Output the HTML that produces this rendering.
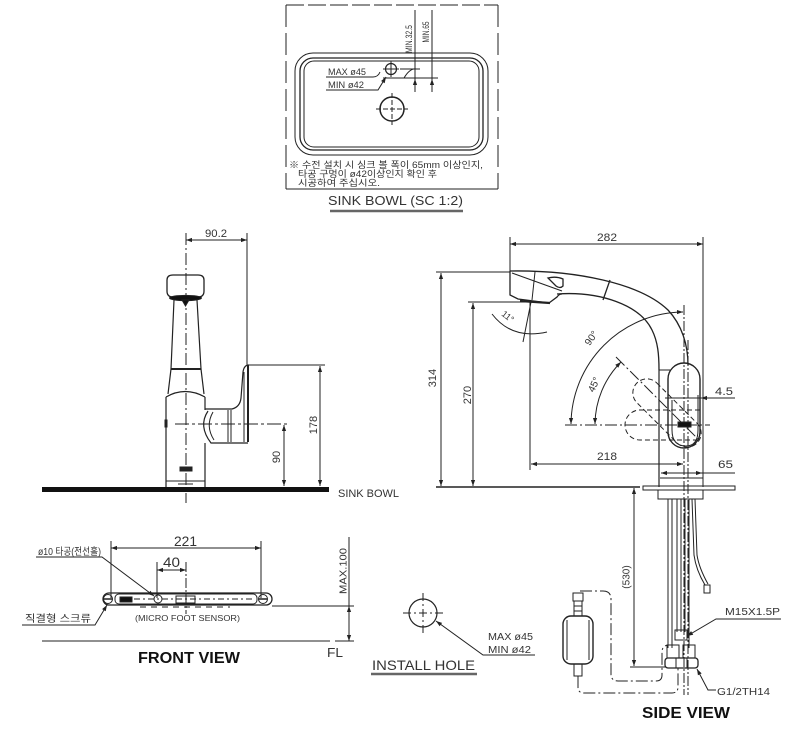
<!DOCTYPE html>
<html><head><meta charset="utf-8"><style>
html,body{margin:0;padding:0;background:#fff;}
svg{display:block;}
text{font-family:"Liberation Sans","Noto Sans CJK KR",sans-serif;fill:#333;}
</style></head><body>
<svg width="789" height="729" viewBox="0 0 789 729" xmlns="http://www.w3.org/2000/svg">
<defs>
<marker id="a" viewBox="0 0 10 10" refX="10" refY="5" markerWidth="7" markerHeight="6" orient="auto-start-reverse" markerUnits="userSpaceOnUse"><path d="M0,1.5 L10,5 L0,8.5z" fill="#222"/></marker>
</defs>
<g fill="none" stroke="#222" stroke-width="1">
<!-- ===== SINK BOWL ===== -->
<line x1="286" y1="5" x2="498" y2="5" stroke-dasharray="18 4"/>
<line x1="286" y1="5" x2="286" y2="189" stroke-dasharray="22 6"/>
<line x1="498" y1="5" x2="498" y2="189" stroke-dasharray="22 6"/>
<line x1="286" y1="189" x2="498" y2="189"/>
<rect x="295" y="53" width="193" height="102" rx="18"/>
<rect x="300" y="58" width="183" height="92" rx="13" stroke-width="1.3"/>
<rect x="304" y="61" width="175" height="86" rx="10"/>
<circle cx="391" cy="69" r="5.5" stroke-width="1.2"/>
<line x1="383" y1="69" x2="399" y2="69"/><line x1="391" y1="61" x2="391" y2="77"/>
<circle cx="392" cy="109" r="12" stroke-width="1.5"/>
<line x1="376" y1="109" x2="408" y2="109" stroke-dasharray="5 2"/><line x1="392" y1="93" x2="392" y2="125" stroke-dasharray="5 2"/>
<line x1="400" y1="69" x2="420" y2="69"/>
<path d="M404,78 Q410,68 416,69"/>
<line x1="383" y1="78" x2="438" y2="78"/>
<line x1="415" y1="10" x2="415" y2="92"/>
<line x1="432" y1="10" x2="432" y2="92"/>
<line x1="415" y1="92" x2="415" y2="79" marker-end="url(#a)"/>
<line x1="432" y1="92" x2="432" y2="79" marker-end="url(#a)"/>
<path d="M326,77 L373,77 Q378,77 380,72"/>
<path d="M326,90 L378,90 L386,77" marker-end="url(#a)"/>
<line x1="330" y1="211" x2="463" y2="211" stroke="#666" stroke-width="2.5"/>

<!-- ===== FRONT VIEW ===== -->
<line x1="186" y1="233" x2="186" y2="503" stroke-dasharray="12 3 2 3"/>
<line x1="247" y1="233" x2="247" y2="365"/>
<line x1="186" y1="240" x2="247" y2="240" marker-start="url(#a)" marker-end="url(#a)"/>
<path d="M167,291 L167,280 Q167,275 173,275 L198,275 Q204,275 204,280 L204,291 Q204,297 198,297 L173,297 Q167,297 167,291 Z" stroke-width="1.3"/>
<ellipse cx="185.5" cy="298" rx="16" ry="2.6" fill="#111"/>
<path d="M182,300 L189,300 L185.5,306 Z" fill="#111"/>
<path d="M174,300 L171,369 M197,300 L201,369" stroke-width="1.2"/>
<line x1="171" y1="369" x2="201" y2="369" stroke-width="2"/>
<path d="M171,369 L168,394 M201,369 L204,394" stroke-width="1.2"/>
<path d="M166,397 Q185,386 205,397" stroke-width="1.2"/>
<path d="M166,397 L166,487 M205,397 L205,410 M205,443 L205,487" stroke-width="1.2"/>
<rect x="165" y="420" width="2" height="7" fill="#222"/>
<rect x="180" y="467" width="12" height="4" fill="#222"/>
<line x1="166" y1="481" x2="205" y2="481"/>
<line x1="178" y1="484" x2="193" y2="484"/>
<path d="M205,409 L232,409 Q240,407 241,398 L243,372 Q244,365 249,365" stroke-width="1.2"/>
<line x1="248" y1="365" x2="248" y2="442" stroke-width="2"/>
<line x1="244" y1="372" x2="244" y2="442"/>
<path d="M208,411 Q198,426 211,443 L248,443" stroke-width="1.2"/>
<path d="M213,412 Q205,426 214,440"/>
<line x1="228" y1="410" x2="228" y2="442"/>
<line x1="231" y1="410" x2="231" y2="442"/>
<line x1="175" y1="424" x2="290" y2="424" stroke-dasharray="14 3 3 3"/>
<line x1="248" y1="365" x2="325" y2="365"/>
<line x1="284" y1="425" x2="284" y2="486" marker-start="url(#a)" marker-end="url(#a)"/>
<line x1="320" y1="366" x2="320" y2="486" marker-start="url(#a)" marker-end="url(#a)"/>
<rect x="42" y="487" width="287" height="5" fill="#111" stroke="none"/>

<!-- foot sensor -->
<line x1="111" y1="541" x2="111" y2="598"/>
<line x1="261" y1="541" x2="261" y2="598"/>
<line x1="111" y1="548" x2="261" y2="548" marker-start="url(#a)" marker-end="url(#a)"/>
<line x1="157" y1="562" x2="157" y2="598"/>
<line x1="186" y1="562" x2="186" y2="614" stroke-dasharray="10 2 2 2"/>
<line x1="157" y1="570" x2="186" y2="570" marker-start="url(#a)" marker-end="url(#a)"/>
<rect x="103" y="593" width="169" height="12" rx="6" stroke-width="1.3"/>
<rect x="115" y="594" width="142" height="10" rx="4"/>
<circle cx="108" cy="599" r="4.5"/>
<circle cx="263" cy="599" r="4.5"/>
<line x1="104" y1="599" x2="112" y2="599" stroke-width="1.5"/>
<line x1="259" y1="599" x2="267" y2="599" stroke-width="1.5"/>
<rect x="120" y="597" width="12" height="5" fill="#111"/>
<circle cx="158" cy="599" r="4"/>
<rect x="176" y="596" width="19" height="7"/>
<line x1="134" y1="599" x2="255" y2="599" stroke-dasharray="6 3 2 3"/>
<line x1="140" y1="607" x2="230" y2="607" stroke-dasharray="6 5"/>
<line x1="272" y1="606" x2="354" y2="606"/>
<path d="M36,557 L102,557 L154,596" marker-end="url(#a)"/>
<path d="M22,625 L95,625 L107,605" marker-end="url(#a)"/>
<line x1="42" y1="641" x2="330" y2="641"/>
<line x1="335" y1="641" x2="354" y2="641"/>
<line x1="349" y1="537" x2="349" y2="606"/>
<line x1="349" y1="606" x2="349" y2="641" marker-start="url(#a)" marker-end="url(#a)"/>

<!-- ===== INSTALL HOLE ===== -->
<circle cx="423" cy="613" r="14" stroke-width="1.2"/>
<line x1="403" y1="613" x2="443" y2="613" stroke-dasharray="8 3 2 3"/>
<line x1="423" y1="593" x2="423" y2="633" stroke-dasharray="8 3 2 3"/>
<path d="M535,655 L483,655 L436,621" marker-end="url(#a)"/>
<line x1="371" y1="674" x2="477" y2="674" stroke="#666" stroke-width="2.5"/>

<!-- ===== SIDE VIEW ===== -->
<line x1="510" y1="237" x2="510" y2="272"/>
<line x1="703" y1="237" x2="703" y2="487"/>
<line x1="510" y1="244" x2="703" y2="244" marker-start="url(#a)" marker-end="url(#a)"/>
<line x1="436" y1="272" x2="510" y2="272"/>
<line x1="441" y1="273" x2="441" y2="486" marker-start="url(#a)" marker-end="url(#a)"/>
<line x1="468" y1="302" x2="530" y2="302"/>
<line x1="473" y1="303" x2="473" y2="486" marker-start="url(#a)" marker-end="url(#a)"/>
<line x1="436" y1="487" x2="640" y2="487" stroke-width="1.4"/>
<!-- spout -->
<path d="M510,271 C575,270 640,283 668,310 C682,325 688,345 688,365" stroke-width="1.3"/>
<path d="M557,294 C600,291 640,305 652,330 C658,342 659,355 659,370" stroke-width="1.3"/>
<path d="M510,271 L510,295 L518,299 L549,303 L557,297 Q559,294 562,294" stroke-width="1.3"/>
<line x1="535" y1="272" x2="532" y2="300"/>
<line x1="512" y1="273" x2="562" y2="291"/>
<path d="M548,278 Q556,276 563,279 L563,286 Q560,289 556,286 Z" stroke-width="1.3"/>
<line x1="610" y1="280" x2="603" y2="300" stroke-width="1.3"/>
<line x1="520" y1="301" x2="550" y2="303" stroke-width="2.2"/>
<!-- 11 deg -->
<line x1="530" y1="302" x2="530" y2="470"/>
<line x1="531" y1="302" x2="523" y2="342"/>
<path d="M492,314 Q512,340 547,332"/>
<!-- arcs -->
<line x1="684" y1="305" x2="684" y2="695" stroke-dasharray="10 2 2 2"/>
<line x1="688" y1="340" x2="688" y2="695" stroke-dasharray="10 2 2 2"/>
<path d="M683,312 A113,113 0 0 0 571,424" marker-start="url(#a)" marker-end="url(#a)"/>
<path d="M621,362 A89,89 0 0 0 595,424" marker-start="url(#a)" marker-end="url(#a)"/>
<line x1="616" y1="357" x2="700" y2="441" stroke-dasharray="12 3 2 3"/>
<line x1="565" y1="425" x2="710" y2="425" stroke-dasharray="12 3 2 3"/>
<!-- body & handle -->
<line x1="659" y1="370" x2="659" y2="487" stroke-width="1.2"/>
<line x1="659" y1="370" x2="670" y2="370"/>
<rect x="624.5" y="399" width="85" height="28" rx="14" transform="rotate(45 667 413)" stroke-dasharray="5 3"/>
<path d="M700,410 L640,410 A15,15 0 0 0 640,440 L700,440" stroke-dasharray="5 3"/>
<rect x="668" y="363" width="32" height="85" rx="16" stroke-width="1.4" fill="none"/>
<path d="M672,400 L672,430 Q672,446 686,446 Q698,446 698,430 L698,395" />
<rect x="678" y="422" width="13" height="5" fill="#111"/>
<line x1="660" y1="478" x2="703" y2="478"/>
<line x1="665" y1="398" x2="735" y2="398"/>
<line x1="735" y1="398" x2="701" y2="398" marker-end="url(#a)"/>
<line x1="531" y1="464" x2="683" y2="464" marker-start="url(#a)" marker-end="url(#a)"/>
<line x1="661" y1="473" x2="702" y2="473" marker-start="url(#a)" marker-end="url(#a)"/>
<line x1="702" y1="473" x2="735" y2="473"/>
<!-- base & pipes -->
<rect x="643" y="486" width="92" height="4"/>
<rect x="658" y="490" width="45" height="9"/>
<line x1="668" y1="499" x2="668" y2="648"/>
<line x1="672" y1="499" x2="672" y2="648"/>
<line x1="677" y1="499" x2="677" y2="632"/>
<line x1="681" y1="499" x2="681" y2="632"/>
<line x1="685" y1="499" x2="685" y2="632"/>
<line x1="689" y1="499" x2="689" y2="648"/>
<path d="M692,499 L694,555 Q696,570 705,585"/>
<path d="M695,499 L697,555 Q699,568 708,584"/>
<rect x="704" y="585" width="6" height="8"/>
<rect x="675" y="630" width="12" height="10"/>
<rect x="667" y="645" width="12" height="13"/>
<rect x="683" y="645" width="12" height="13"/>
<rect x="665" y="658" width="33" height="10" rx="3" stroke-width="1.3"/>
<line x1="676" y1="658" x2="676" y2="668"/><line x1="687" y1="658" x2="687" y2="668"/>
<line x1="634" y1="488" x2="634" y2="666" marker-start="url(#a)" marker-end="url(#a)"/>
<line x1="630" y1="667" x2="666" y2="667"/>
<!-- filter -->
<rect x="573" y="593" width="10" height="8"/>
<rect x="574" y="601" width="8" height="15"/>
<line x1="574" y1="606" x2="582" y2="606"/><line x1="574" y1="611" x2="582" y2="611"/>
<rect x="563" y="616" width="30" height="48" rx="8" stroke-width="1.4"/>
<line x1="567" y1="620" x2="567" y2="660"/><line x1="589" y1="620" x2="589" y2="660"/>
<rect x="574" y="664" width="8" height="12"/>
<path d="M580,591 L603,591 Q611,591 611,599 L611,674 Q611,681 618,681 L656,681 Q662,681 662,675 L662,652 Q662,646 668,645" stroke-dasharray="12 3 2 3"/>
<path d="M578,676 L578,687 Q578,693 584,693 L672,693 Q678,693 678,687 L678,668" stroke-dasharray="12 3 2 3"/>
<path d="M781,619 L716,619 L687,636" marker-end="url(#a)"/>
<path d="M716,690 L708,690 L697,669" marker-end="url(#a)"/>
</g>

<!-- ===== TEXT ===== -->
<g>
<text x="409" y="39" font-size="9" text-anchor="middle" transform="rotate(-90 409 39)" dy="3" textLength="28" lengthAdjust="spacingAndGlyphs">MIN.32.5</text>
<text x="426" y="32" font-size="9" text-anchor="middle" transform="rotate(-90 426 32)" dy="3" textLength="21" lengthAdjust="spacingAndGlyphs">MIN.65</text>
<text x="328" y="75" font-size="9" textLength="38" lengthAdjust="spacingAndGlyphs">MAX ø45</text>
<text x="328" y="88" font-size="9" textLength="36" lengthAdjust="spacingAndGlyphs">MIN ø42</text>
<text x="289" y="168" font-size="9" textLength="194" lengthAdjust="spacingAndGlyphs">※ 수전 설치 시 싱크 볼 폭이 65mm 이상인지,</text>
<text x="298" y="177" font-size="9" textLength="139" lengthAdjust="spacingAndGlyphs">타공 구멍이 ø42이상인지 확인 후</text>
<text x="298" y="186" font-size="9" textLength="82" lengthAdjust="spacingAndGlyphs">시공하여 주십시오.</text>
<text x="328" y="205" font-size="13" textLength="135" lengthAdjust="spacingAndGlyphs">SINK BOWL (SC 1:2)</text>

<text x="205" y="237" font-size="11" textLength="22" lengthAdjust="spacingAndGlyphs">90.2</text>
<text x="313" y="425" font-size="11" text-anchor="middle" dy="4" transform="rotate(-90 313 425)">178</text>
<text x="276" y="457" font-size="11" text-anchor="middle" dy="4" transform="rotate(-90 276 457)">90</text>
<text x="338" y="497" font-size="11" textLength="61" lengthAdjust="spacingAndGlyphs">SINK BOWL</text>

<text x="174" y="546" font-size="14" textLength="23" lengthAdjust="spacingAndGlyphs">221</text>
<text x="163" y="567" font-size="14" textLength="17" lengthAdjust="spacingAndGlyphs">40</text>
<text x="38" y="555" font-size="10" textLength="63" lengthAdjust="spacingAndGlyphs">ø10 타공(전선홀)</text>
<text x="25" y="622" font-size="10" textLength="66" lengthAdjust="spacingAndGlyphs">직결형 스크류</text>
<text x="135" y="621" font-size="8" textLength="105" lengthAdjust="spacingAndGlyphs">(MICRO FOOT SENSOR)</text>
<text x="343" y="571" font-size="10" text-anchor="middle" dy="3.5" transform="rotate(-90 343 571)" textLength="46" lengthAdjust="spacingAndGlyphs">MAX.100</text>
<text x="327" y="657" font-size="13" textLength="16" lengthAdjust="spacingAndGlyphs">FL</text>
<text x="138" y="663" font-size="16" font-weight="bold" style="fill:#111" textLength="102" lengthAdjust="spacingAndGlyphs">FRONT VIEW</text>

<text x="488" y="640" font-size="10" textLength="45" lengthAdjust="spacingAndGlyphs">MAX ø45</text>
<text x="488" y="653" font-size="10" textLength="43" lengthAdjust="spacingAndGlyphs">MIN ø42</text>
<text x="372" y="670" font-size="14" textLength="103" lengthAdjust="spacingAndGlyphs">INSTALL HOLE</text>

<text x="597" y="241" font-size="11" textLength="20" lengthAdjust="spacingAndGlyphs">282</text>
<text x="432" y="378" font-size="11" text-anchor="middle" dy="4" transform="rotate(-90 432 378)">314</text>
<text x="467" y="395" font-size="11" text-anchor="middle" dy="4" transform="rotate(-90 467 395)">270</text>
<text x="506" y="319" font-size="9" text-anchor="middle" transform="rotate(38 506 319)">11°</text>
<text x="594" y="340" font-size="10" text-anchor="middle" transform="rotate(-55 594 340)">90°</text>
<text x="597" y="386" font-size="10" text-anchor="middle" transform="rotate(-65 597 386)">45°</text>
<text x="715" y="395" font-size="11" textLength="18" lengthAdjust="spacingAndGlyphs">4.5</text>
<text x="597" y="460" font-size="11" textLength="20" lengthAdjust="spacingAndGlyphs">218</text>
<text x="718" y="468" font-size="11" textLength="15" lengthAdjust="spacingAndGlyphs">65</text>
<text x="626" y="577" font-size="10" text-anchor="middle" dy="3.5" transform="rotate(-90 626 577)">(530)</text>
<text x="725" y="615" font-size="10" textLength="55" lengthAdjust="spacingAndGlyphs">M15X1.5P</text>
<text x="717" y="695" font-size="10" textLength="53" lengthAdjust="spacingAndGlyphs">G1/2TH14</text>
<text x="642" y="718" font-size="16" font-weight="bold" style="fill:#111" textLength="88" lengthAdjust="spacingAndGlyphs">SIDE VIEW</text>
</g>
</svg>
</body></html>
